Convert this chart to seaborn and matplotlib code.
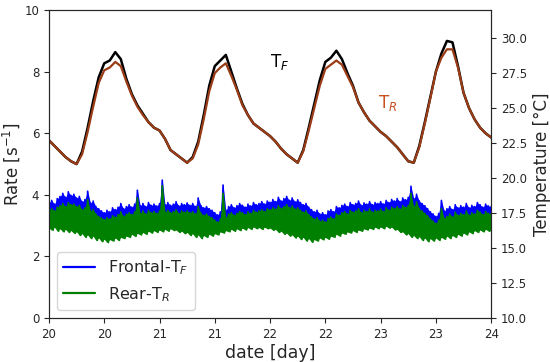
import numpy as np
import pandas as pd
import seaborn as sns
import matplotlib.pyplot as plt

sns.set_style("ticks")
plt.rcParams["font.family"] = ["DejaVu Sans"]

# temperature, one sample every 0.05 day
temp_day = np.linspace(20, 24, 81)
temp_front = [22.7, 22.3, 21.9, 21.5, 21.2, 21.0, 21.9, 23.6, 25.5, 27.2,
              28.2, 28.4, 29.0, 28.5, 27.1, 26.0, 25.2, 24.6, 24.0, 23.6,
              23.4, 22.8, 22.0, 21.7, 21.4, 21.1, 21.5, 22.6, 24.5, 26.6,
              28.0, 28.4, 28.8, 27.6, 26.4, 25.3, 24.5, 23.9, 23.6, 23.3,
              23.0, 22.6, 22.1, 21.7, 21.4, 21.1, 22.0, 23.6, 25.3, 27.0,
              28.3, 28.6, 29.1, 28.5, 27.5, 26.6, 25.4, 24.7, 24.1, 23.7,
              23.3, 23.0, 22.6, 22.2, 21.7, 21.2, 21.1, 22.3, 24.0, 25.8,
              27.6, 28.9, 29.8, 29.7, 28.0, 26.1, 25.0, 24.2, 23.6, 23.2,
              22.9]
temp_rear = [22.7, 22.3, 21.9, 21.5, 21.2, 21.0, 21.7, 23.3, 25.1, 26.8,
             27.7, 27.9, 28.3, 28.0, 26.9, 25.9, 25.1, 24.5, 24.0, 23.6,
             23.4, 22.8, 22.0, 21.7, 21.4, 21.1, 21.4, 22.4, 24.2, 26.2,
             27.5, 27.9, 28.2, 27.3, 26.3, 25.2, 24.5, 23.9, 23.6, 23.3,
             23.0, 22.6, 22.1, 21.7, 21.4, 21.1, 21.9, 23.4, 25.0, 26.6,
             27.8, 28.1, 28.4, 28.1, 27.3, 26.5, 25.4, 24.7, 24.1, 23.7,
             23.3, 23.0, 22.6, 22.2, 21.7, 21.2, 21.1, 22.2, 23.9, 25.7,
             27.6, 28.6, 29.2, 29.2, 27.9, 26.1, 25.0, 24.2, 23.6, 23.2,
             22.9]

# count rates, upper / lower swing every 0.025 day
rate_day = np.linspace(20, 24, 161)
front_hi = [3.75, 3.82, 3.70, 3.88, 3.95, 4.05, 3.92, 4.10, 3.98, 4.02,
            3.90, 3.95, 3.78, 3.85, 4.12, 3.74, 3.80, 3.62, 3.55, 3.48,
            3.42, 3.50, 3.45, 3.58, 3.52, 3.60, 3.72, 3.55, 3.62, 3.68,
            3.60, 3.70, 4.15, 3.65, 3.72, 3.62, 3.75, 3.66, 3.70, 3.64,
            3.72, 4.48, 3.68, 3.75, 3.66, 3.70, 3.78, 3.64, 3.72, 3.68,
            3.74, 3.66, 3.72, 3.62, 3.90, 3.65, 3.58, 3.62, 3.55, 3.50,
            3.42, 3.35, 3.45, 4.32, 3.50, 3.62, 3.68, 3.58, 3.65, 3.72,
            3.66, 3.60, 3.70, 3.64, 3.75, 3.68, 3.72, 3.78, 3.70, 3.80,
            3.76, 3.85, 3.78, 3.92, 3.80, 3.88, 3.95, 3.82, 3.90, 3.78,
            3.84, 3.75, 3.68, 3.72, 3.60, 3.52, 3.45, 3.50, 3.38, 3.42,
            3.35, 3.48, 3.52, 3.45, 3.62, 3.58, 3.66, 3.70, 3.62, 3.75,
            3.68, 3.72, 3.80, 3.66, 3.74, 3.70, 3.78, 3.68, 3.75, 3.72,
            3.78, 3.70, 3.82, 3.75, 3.85, 3.80, 3.88, 3.78, 3.90, 3.84,
            3.92, 4.28, 3.88, 4.02, 3.80, 3.72, 3.65, 3.55, 3.45, 3.38,
            3.30, 3.40, 3.82, 3.48, 3.55, 3.62, 3.52, 3.68, 3.58, 3.65,
            3.60, 3.72, 3.58, 3.66, 3.62, 3.75, 3.68, 3.60, 3.70, 3.64,
            3.62]
front_lo = [3.10, 3.05, 3.14, 3.02, 3.08, 3.00, 3.06, 2.98, 3.04, 2.96,
            3.00, 2.90, 2.95, 2.84, 2.92, 2.80, 2.86, 2.74, 2.82, 2.70,
            2.76, 2.68, 2.76, 2.72, 2.80, 2.74, 2.82, 2.78, 2.86, 2.82,
            2.92, 2.86, 2.95, 2.90, 2.98, 2.92, 3.02, 2.96, 3.04, 2.98,
            3.06, 3.00, 3.08, 3.02, 3.10, 3.04, 3.06, 2.98, 3.02, 2.94,
            2.98, 2.88, 2.94, 2.84, 2.90, 2.80, 2.88, 2.84, 2.92, 2.86,
            2.94, 2.90, 3.00, 2.96, 3.04, 3.00, 3.08, 3.02, 3.10, 3.04,
            3.12, 3.06, 3.14, 3.08, 3.16, 3.10, 3.14, 3.08, 3.15, 3.10,
            3.12, 3.05, 3.08, 2.98, 3.02, 2.92, 2.96, 2.86, 2.90, 2.80,
            2.86, 2.76, 2.82, 2.72, 2.78, 2.68, 2.76, 2.70, 2.80, 2.74,
            2.82, 2.76, 2.86, 2.82, 2.92, 2.86, 2.96, 2.92, 3.00, 2.96,
            3.04, 2.98, 3.06, 3.02, 3.10, 3.06, 3.12, 3.08, 3.15, 3.10,
            3.16, 3.10, 3.18, 3.12, 3.15, 3.06, 3.08, 2.98, 3.00, 2.90,
            2.94, 2.84, 2.88, 2.78, 2.84, 2.74, 2.80, 2.70, 2.78, 2.72,
            2.80, 2.74, 2.82, 2.76, 2.86, 2.78, 2.88, 2.82, 2.92, 2.86,
            2.96, 2.90, 3.00, 2.94, 3.04, 2.98, 3.06, 3.00, 3.08, 3.02,
            3.05]
rear_hi = [3.50, 3.55, 3.48, 3.60, 3.65, 3.72, 3.62, 3.75, 3.68, 3.70,
           3.62, 3.66, 3.52, 3.58, 3.85, 3.48, 3.52, 3.38, 3.30, 3.25,
           3.20, 3.26, 3.22, 3.32, 3.28, 3.36, 3.45, 3.30, 3.38, 3.42,
           3.36, 3.45, 3.90, 3.40, 3.48, 3.38, 3.50, 3.42, 3.46, 3.40,
           3.48, 4.30, 3.44, 3.50, 3.42, 3.46, 3.52, 3.40, 3.48, 3.44,
           3.48, 3.42, 3.46, 3.38, 3.62, 3.40, 3.34, 3.38, 3.30, 3.26,
           3.18, 3.12, 3.22, 4.05, 3.26, 3.38, 3.42, 3.34, 3.40, 3.46,
           3.42, 3.36, 3.45, 3.40, 3.50, 3.44, 3.48, 3.52, 3.46, 3.55,
           3.52, 3.58, 3.54, 3.65, 3.56, 3.62, 3.68, 3.58, 3.64, 3.54,
           3.58, 3.50, 3.44, 3.48, 3.36, 3.28, 3.22, 3.26, 3.15, 3.18,
           3.12, 3.24, 3.28, 3.22, 3.38, 3.34, 3.42, 3.46, 3.38, 3.50,
           3.44, 3.48, 3.55, 3.42, 3.50, 3.46, 3.54, 3.44, 3.50, 3.48,
           3.54, 3.46, 3.58, 3.50, 3.60, 3.56, 3.62, 3.54, 3.65, 3.60,
           3.66, 4.05, 3.62, 3.78, 3.55, 3.48, 3.40, 3.32, 3.22, 3.15,
           3.08, 3.18, 3.55, 3.24, 3.30, 3.38, 3.28, 3.44, 3.34, 3.40,
           3.36, 3.48, 3.34, 3.42, 3.38, 3.50, 3.44, 3.36, 3.46, 3.40,
           3.38]
rear_lo = [2.92, 2.85, 2.95, 2.82, 2.90, 2.80, 2.88, 2.78, 2.84, 2.75,
           2.80, 2.68, 2.74, 2.62, 2.70, 2.58, 2.66, 2.52, 2.60, 2.48,
           2.56, 2.45, 2.55, 2.50, 2.60, 2.52, 2.62, 2.58, 2.66, 2.62,
           2.72, 2.65, 2.75, 2.70, 2.78, 2.72, 2.82, 2.76, 2.84, 2.78,
           2.86, 2.80, 2.88, 2.82, 2.90, 2.84, 2.86, 2.78, 2.82, 2.74,
           2.78, 2.68, 2.74, 2.62, 2.70, 2.58, 2.68, 2.62, 2.72, 2.66,
           2.74, 2.70, 2.80, 2.76, 2.84, 2.80, 2.88, 2.82, 2.90, 2.84,
           2.92, 2.86, 2.94, 2.88, 2.96, 2.90, 2.94, 2.88, 2.95, 2.90,
           2.92, 2.85, 2.88, 2.78, 2.82, 2.72, 2.76, 2.66, 2.70, 2.60,
           2.66, 2.55, 2.62, 2.50, 2.58, 2.46, 2.55, 2.50, 2.60, 2.54,
           2.62, 2.56, 2.66, 2.62, 2.72, 2.66, 2.76, 2.72, 2.80, 2.76,
           2.84, 2.78, 2.86, 2.82, 2.90, 2.86, 2.92, 2.88, 2.95, 2.90,
           2.96, 2.90, 2.98, 2.92, 2.95, 2.86, 2.88, 2.78, 2.80, 2.70,
           2.74, 2.62, 2.68, 2.58, 2.64, 2.52, 2.60, 2.48, 2.58, 2.50,
           2.60, 2.52, 2.62, 2.56, 2.66, 2.58, 2.68, 2.62, 2.72, 2.66,
           2.76, 2.70, 2.80, 2.74, 2.84, 2.78, 2.86, 2.80, 2.88, 2.82,
           2.85]

xtick_pos = [20, 20.5, 21, 21.5, 22, 22.5, 23, 23.5, 24]
xtick_lab = ["20", "20", "21", "21", "22", "22", "23", "23", "24"]
temp_ticks = [10.0, 12.5, 15.0, 17.5, 20.0, 22.5, 25.0, 27.5, 30.0]


def zigzag(hi, lo):
    # noisy trace: alternate between the upper and lower swing
    x = np.column_stack([rate_day, rate_day + 0.0125]).ravel()
    y = np.column_stack([hi, lo]).ravel()
    return pd.DataFrame({"day": x, "rate": y})


fig = plt.figure(figsize=(5.5, 3.62), dpi=100)
ax = fig.add_axes([0.089, 0.1215, 0.804, 0.8505])

ax.fill_between(rate_day, front_lo, front_hi, color="#0000ff", lw=0, zorder=2.0)
sns.lineplot(data=zigzag(front_hi, front_lo), x="day", y="rate", ax=ax,
             color="#0000ff", lw=1.2, label="Frontal-T$_F$", sort=False, zorder=2.1)
ax.fill_between(rate_day, rear_lo, rear_hi, color="#008000", lw=0, zorder=2.2)
sns.lineplot(data=zigzag(rear_hi, rear_lo), x="day", y="rate", ax=ax,
             color="#008000", lw=1.2, label="Rear-T$_R$", sort=False, zorder=2.3)
ax.set_xlim(20, 24)
ax.set_ylim(0, 10)
ax.set_xticks(xtick_pos)
ax.set_xticklabels(xtick_lab)
ax.set_yticks([0, 2, 4, 6, 8, 10])
ax.tick_params(labelsize=8.5)
ax.set_xlabel("date [day]", fontsize=12.5, labelpad=2)
ax.set_ylabel("Rate [s$^{-1}$]", fontsize=12, labelpad=2)
leg = ax.legend(loc="lower left", fontsize=11.5, frameon=True)
for h in leg.get_lines():
    h.set_linewidth(1.6)

ax.text(22.0, 8.3, "T$_F$", fontsize=12, ha="left", va="center", color="black")
ax.text(22.98, 7.0, "T$_R$", fontsize=12, ha="left", va="center", color="#c8501e")

ax2 = ax.twinx()
sns.lineplot(x=temp_day, y=temp_front, ax=ax2, color="black", lw=1.8)
sns.lineplot(x=temp_day, y=temp_rear, ax=ax2, color="#9a3c16", lw=1.6)
ax2.set_ylim(10, 32)
ax2.set_yticks(temp_ticks)
ax2.set_yticklabels([f"{t:.1f}" for t in temp_ticks])
ax2.tick_params(labelsize=8.5)
ax2.set_ylabel("Temperature [°C]", fontsize=12, labelpad=4)

fig.savefig("out.png", dpi=100)
